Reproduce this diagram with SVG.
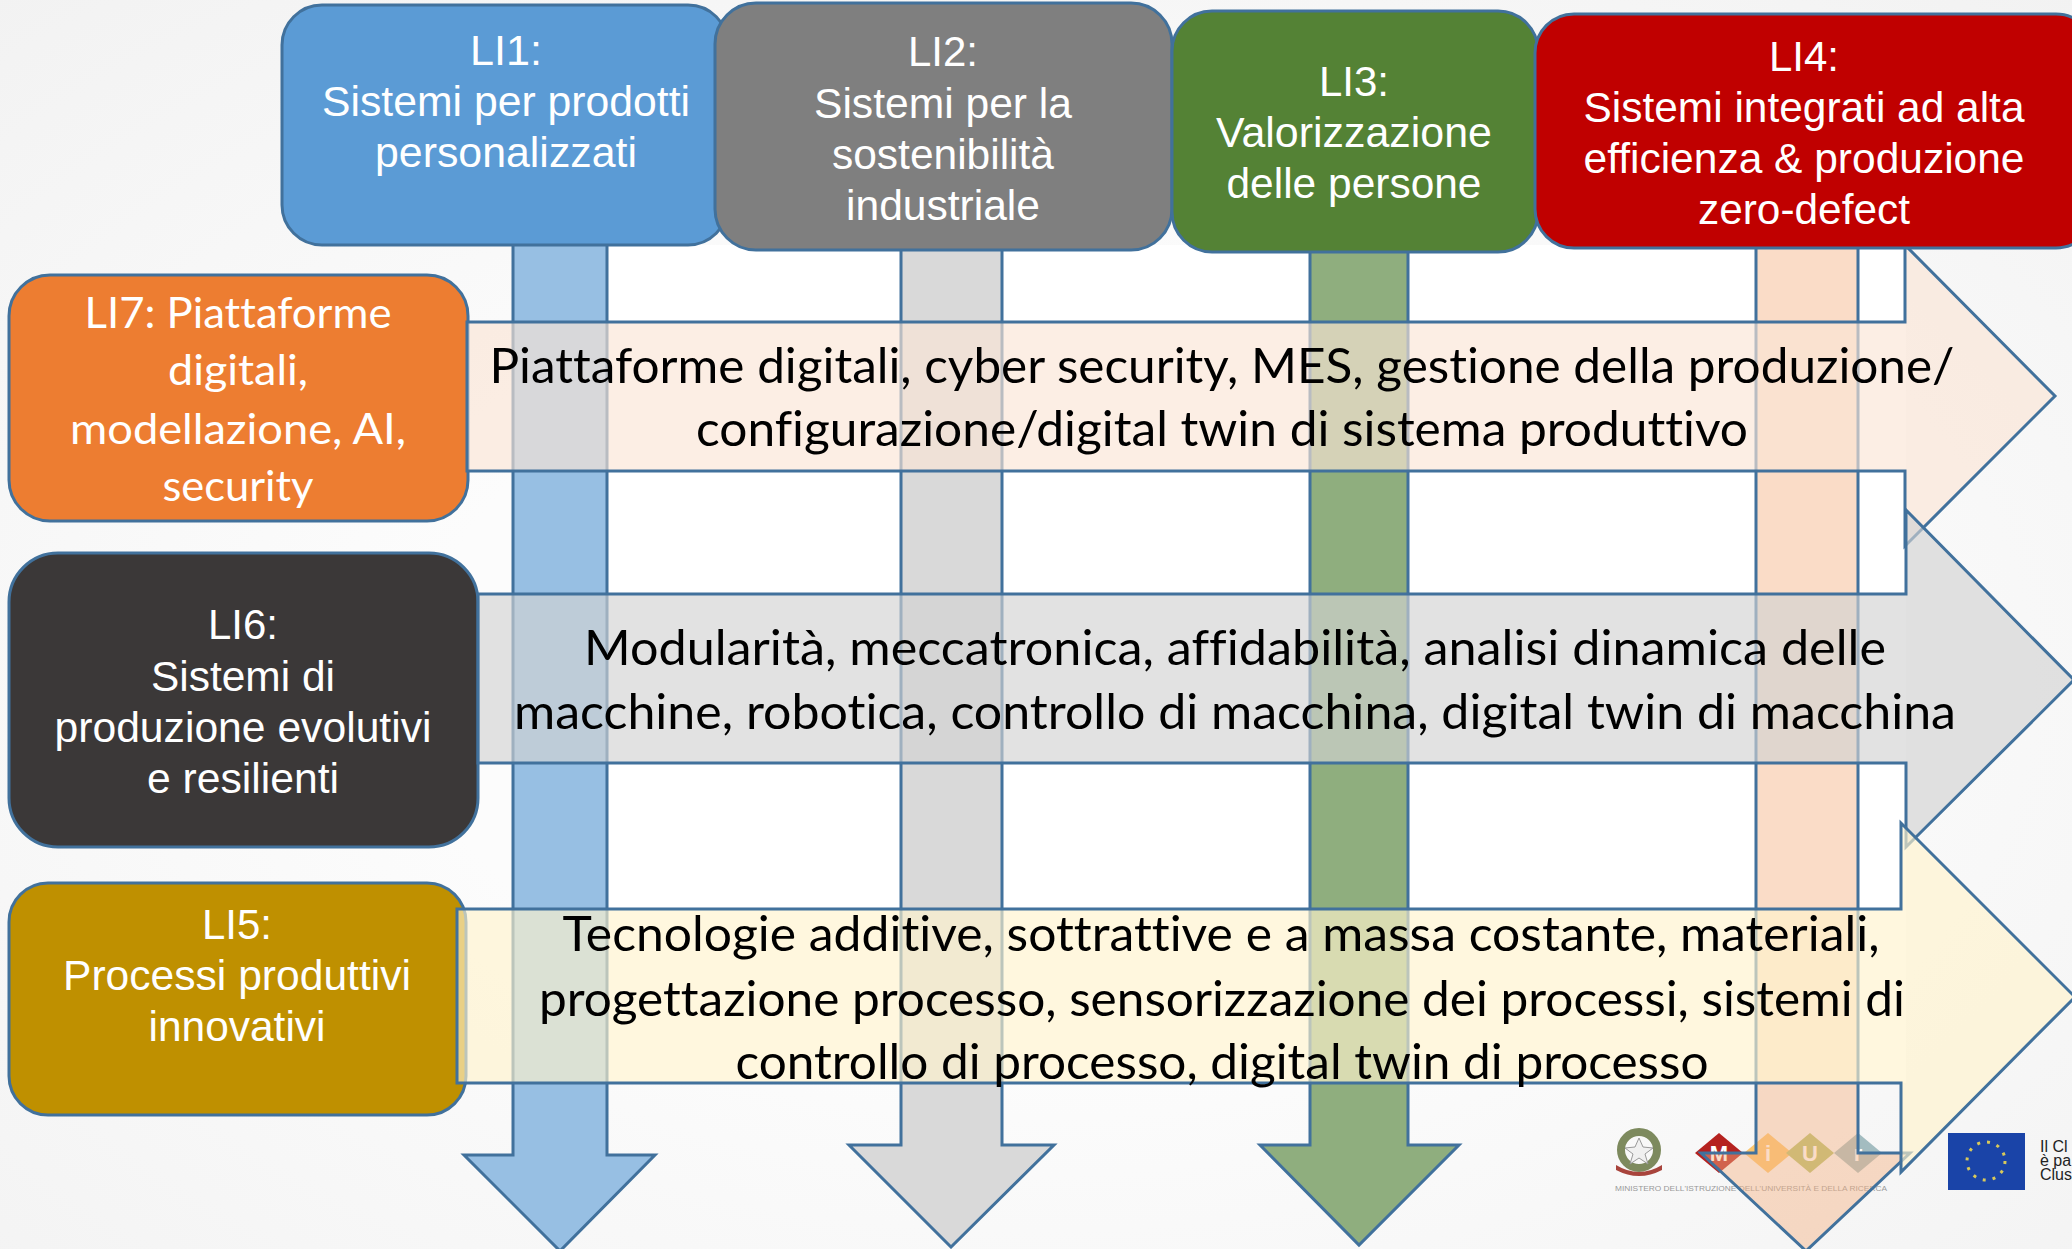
<svg xmlns="http://www.w3.org/2000/svg" width="2072" height="1249" viewBox="0 0 2072 1249">
<style>
.n{stroke:#41719c;stroke-width:3}
.a{stroke:#41719c;stroke-width:3;stroke-linejoin:miter}
.h{stroke:#41719c;stroke-width:3;stroke-linejoin:miter;fill-opacity:.65}
.t{font-family:"Liberation Sans",Arial,sans-serif;font-size:43px;fill:#fff;text-anchor:middle}
.c{font-family:Lato,"Open Sans",sans-serif;font-size:43px;fill:#fff;text-anchor:middle;font-variant-ligatures:none}
.b{font-family:Lato,"Open Sans",sans-serif;font-size:48px;fill:#000;text-anchor:middle;font-variant-ligatures:none}
.m{font-family:"Liberation Sans",sans-serif;font-size:22px;font-weight:700;fill:#fff;text-anchor:middle}
</style>
<defs>
<radialGradient id="bg" cx="0.5" cy="0.55" r="0.75"><stop offset="0.4" stop-color="#fcfcfc"/><stop offset="1" stop-color="#f2f2f2"/></radialGradient>
</defs>
<rect id="background" width="2072" height="1249" fill="url(#bg)"/>
<rect id="panel" x="513" y="245" width="1393" height="838" fill="#fff"/>
<g id="logos">
<circle cx="1639" cy="1150" r="18" fill="none" stroke="#7d8a5e" stroke-width="8"/>
<path d="M1639 1138l4 9 10 1-8 6 3 10-9-6-9 6 3-10-8-6 10-1z" fill="#f0f0f0" stroke="#999"/>
<path d="M1616 1165q23 14 46 0v5q-23 12-46 0z" fill="#a8443c"/>
<path d="M1719 1133l24 20-24 20-24-20z" fill="#b5221f"/><path d="M1768 1133l24 20-24 20-24-20z" fill="#fbc56c"/><path d="M1810 1133l24 20-24 20-24-20z" fill="#b5bf6a"/><path d="M1858 1133l24 20-24 20-24-20z" fill="#a3bcc0"/>
<text class="m" x="1719" y="1161">M</text><text class="m" x="1768" y="1161">i</text><text class="m" x="1810" y="1161">U</text><text class="m" x="1858" y="1161">r</text>
<text x="1615" y="1191" textLength="272" lengthAdjust="spacingAndGlyphs" font-family="Liberation Sans,sans-serif" font-size="7" fill="#999">MINISTERO DELL'ISTRUZIONE DELL'UNIVERSITÀ E DELLA RICERCA</text>
<rect x="1948" y="1133" width="77" height="57" fill="#1a44a8"/>
<circle cx="1986" cy="1161" r="19" fill="none" stroke="#d8c95a" stroke-width="3" stroke-dasharray="3 7"/>
<g font-family="Liberation Sans,sans-serif" font-size="16" fill="#222"><text x="2040" y="1152">Il Cl</text><text x="2040" y="1166">è pa</text><text x="2040" y="1180">Clus</text></g>
</g>
<g id="LI5"><rect class="n" x="9" y="883" width="457" height="232" rx="39" fill="#bf9000"/>
<text class="t" x="237" y="939" textLength="70" lengthAdjust="spacingAndGlyphs">LI5:</text><text class="t" x="237" y="990" textLength="348" lengthAdjust="spacingAndGlyphs">Processi produttivi</text><text class="t" x="237" y="1041" textLength="177" lengthAdjust="spacingAndGlyphs">innovativi</text></g>
<g id="LI7"><rect class="n" x="9" y="275" width="459" height="246" rx="41" fill="#ed7d31"/>
<text class="c" x="238" y="328" textLength="307" lengthAdjust="spacingAndGlyphs">LI7: Piattaforme</text><text class="c" x="238" y="385" textLength="140" lengthAdjust="spacingAndGlyphs">digitali,</text><text class="c" x="238" y="444" textLength="336" lengthAdjust="spacingAndGlyphs">modellazione, AI,</text><text class="c" x="238" y="501" textLength="151" lengthAdjust="spacingAndGlyphs">security</text></g>
<g id="LI6"><rect class="n" x="9" y="553" width="469" height="294" rx="49" fill="#3b3838"/>
<text class="t" x="243" y="639" textLength="70" lengthAdjust="spacingAndGlyphs">LI6:</text><text class="t" x="243" y="691" textLength="184" lengthAdjust="spacingAndGlyphs">Sistemi di</text><text class="t" x="243" y="742" textLength="377" lengthAdjust="spacingAndGlyphs">produzione evolutivi</text><text class="t" x="243" y="793" textLength="192" lengthAdjust="spacingAndGlyphs">e resilienti</text></g>
<g id="connectors">
<path class="a" fill="#97bfe3" d="M513 240H607V1155H655L560 1251 464 1155H513Z"/>
<path class="a" fill="#d9d9d9" d="M901 240H1002V1145H1054L951 1247 849 1145H901Z"/>
<path class="a" fill="#8fae7e" d="M1310 240H1408V1145H1459L1359 1245 1260 1145H1310Z"/>
<path class="a" fill="#f4b183" fill-opacity=".45" d="M1756 240H1858V1153H1910L1806 1251 1701 1153H1756Z"/>
<path class="h" fill="#fbe5d6" d="M467 322H1905V245L2055 396 1905 546V471H467Z"/>
<path class="h" fill="#d3d3d3" d="M478 594H1906V510L2074 680 1906 847V763H478Z"/>
<path class="h" fill="#fff2cc" d="M457 909H1901V823L2075 997 1901 1172V1083H457Z"/>
</g>
<g id="LI1"><rect class="n" x="282" y="5" width="446" height="240" rx="40" fill="#5b9bd5"/>
<text class="t" x="506" y="65" textLength="72" lengthAdjust="spacingAndGlyphs">LI1:</text><text class="t" x="506" y="116" textLength="368" lengthAdjust="spacingAndGlyphs">Sistemi per prodotti</text><text class="t" x="506" y="167" textLength="262" lengthAdjust="spacingAndGlyphs">personalizzati</text></g>
<g id="LI2"><rect class="n" x="715" y="3" width="457" height="247" rx="41" fill="#7f7f7f"/>
<text class="t" x="943" y="66" textLength="70" lengthAdjust="spacingAndGlyphs">LI2:</text><text class="t" x="943" y="118" textLength="258" lengthAdjust="spacingAndGlyphs">Sistemi per la</text><text class="t" x="943" y="169" textLength="222" lengthAdjust="spacingAndGlyphs">sostenibilità</text><text class="t" x="943" y="220" textLength="194" lengthAdjust="spacingAndGlyphs">industriale</text></g>
<g id="LI3"><rect class="n" x="1172" y="11" width="366" height="241" rx="40" fill="#548235"/>
<text class="t" x="1354" y="96" textLength="70" lengthAdjust="spacingAndGlyphs">LI3:</text><text class="t" x="1354" y="147" textLength="276" lengthAdjust="spacingAndGlyphs">Valorizzazione</text><text class="t" x="1354" y="198" textLength="255" lengthAdjust="spacingAndGlyphs">delle persone</text></g>
<g id="LI4"><rect class="n" x="1535" y="14" width="560" height="234" rx="39" fill="#c00000"/>
<text class="t" x="1804" y="71" textLength="70" lengthAdjust="spacingAndGlyphs">LI4:</text><text class="t" x="1804" y="122" textLength="441" lengthAdjust="spacingAndGlyphs">Sistemi integrati ad alta</text><text class="t" x="1804" y="173" textLength="441" lengthAdjust="spacingAndGlyphs">efficienza &amp; produzione</text><text class="t" x="1804" y="224" textLength="212" lengthAdjust="spacingAndGlyphs">zero-defect</text></g>
<g id="band-labels">
<text class="b" x="1222" y="383" textLength="1465" lengthAdjust="spacingAndGlyphs">Piattaforme digitali, cyber security, MES, gestione della produzione/</text>
<text class="b" x="1222" y="446" textLength="1052" lengthAdjust="spacingAndGlyphs">configurazione/digital twin di sistema produttivo</text>
<text class="b" x="1235" y="665" textLength="1302" lengthAdjust="spacingAndGlyphs">Modularità, meccatronica, affidabilità, analisi dinamica delle</text>
<text class="b" x="1235" y="729" textLength="1442" lengthAdjust="spacingAndGlyphs">macchine, robotica, controllo di macchina, digital twin di macchina</text>
<text class="b" x="1221" y="951" textLength="1317" lengthAdjust="spacingAndGlyphs">Tecnologie additive, sottrattive e a massa costante, materiali,</text>
<text class="b" x="1222" y="1016" textLength="1366" lengthAdjust="spacingAndGlyphs">progettazione processo, sensorizzazione dei processi, sistemi di</text>
<text class="b" x="1222" y="1079" textLength="973" lengthAdjust="spacingAndGlyphs">controllo di processo, digital twin di processo</text>
</g>
</svg>
